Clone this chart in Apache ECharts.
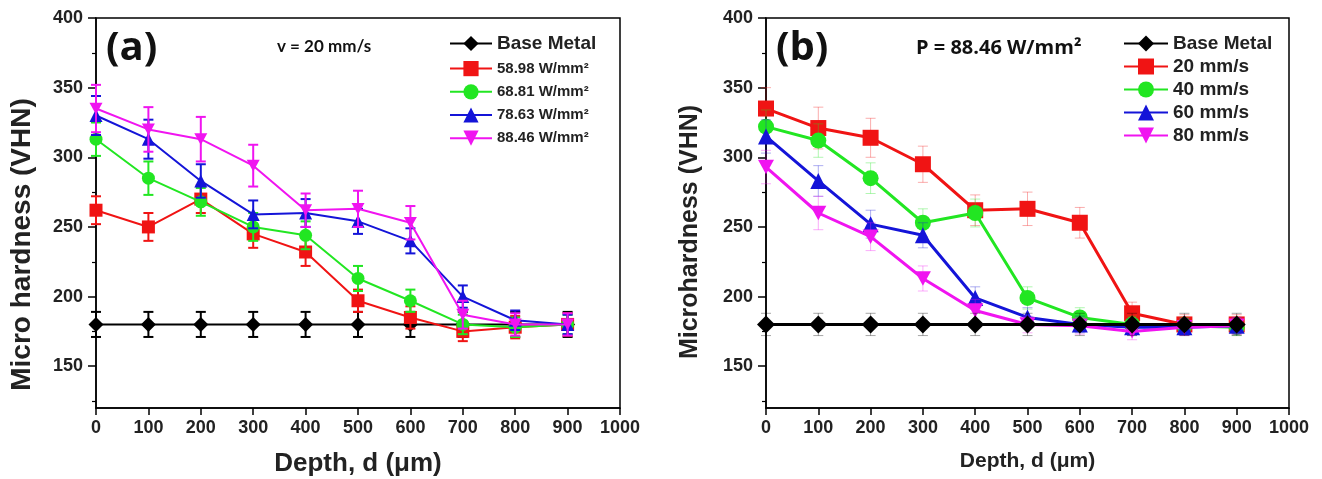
<!DOCTYPE html>
<html><head><meta charset="utf-8">
<script src="https://cdn.jsdelivr.net/npm/echarts@6/dist/echarts.min.js"></script>
<style>html,body{margin:0;padding:0;background:#fff}#c{width:1322px;height:479px}</style>
</head><body><div id="c"></div>
<script>
const depth = [0,100,200,300,400,500,600,700,800,900];
const xTicks = [0,100,200,300,400,500,600,700,800,900,1000];
const yTicks = [150,200,250,300,350,400];
const yMinor = [125,175,225,275,325,375];

// Panel (a): v = 20 mm/s
const namesA = ['Base Metal','58.98 W/mm²','68.81 W/mm²','78.63 W/mm²','88.46 W/mm²'];
const baseA  = [180,180,180,180,180,180,180,180,180,180];
const a5898  = [262,250,270,245,232,197,185,175,178,180];
const a6881  = [313,285,268,250,244,213,197,180,178,180];
const a7863  = [330,313,283,259,260,254,240,200,183,180];
const a8846  = [335,320,313,294,262,263,253,187,180,180];
const eBaseA = [9,9,9,9,9,9,9,9,9,9];
const e5898  = [10,10,10,10,10,8,8,7,8,8];
const e6881  = [12,12,10,10,10,9,8,7,7,7];
const e7863  = [14,14,12,10,10,9,9,8,7,7];
const e8846  = [17,16,16,15,12,13,12,10,8,8];

// Panel (b): P = 88.46 W/mm2
const namesB = ['Base Metal','20 mm/s','40 mm/s','60 mm/s','80 mm/s'];
const baseB  = [180,180,180,180,180,180,180,180,180,180];
const b20    = [335,321,314,295,262,263,253,188,180,180];
const b40    = [322,312,285,253,260,199,185,180,179,178];
const b60    = [315,283,252,244,199,185,180,178,178,179];
const b80    = [293,260,243,213,190,180,179,175,178,179];
const eBaseB = [8,8,8,8,8,8,8,8,8,8];
const e20    = [15,15,14,13,11,12,11,8,7,7];
const e40    = [12,12,11,10,10,8,7,6,6,6];
const e60    = [12,11,10,9,8,7,6,6,6,6];
const e80    = [12,12,10,9,8,6,6,6,6,6];

const colors = ['#000000','#f01414','#22e622','#1414d8','#f014f0'];
const syms = ['diamond','rect','circle','triangle','path://M0,0 L10,0 L5,9 Z'];

const chart = echarts.init(document.getElementById('c'));
const FONT = '"Liberation Sans", Arial, sans-serif';

function xAx(g, nameSize, shift){
  return {type:'value', gridIndex:g, min:0, max:1000, interval:100,
    name:'Depth, d (\u03bcm)', nameLocation:'middle', nameGap:43,
    nameTextStyle:{fontFamily:FONT, fontWeight:'bold', fontSize:nameSize, color:'#222', padding:[0,0,0,shift]},
    axisLine:{lineStyle:{color:'#000', width:1.5}},
    axisTick:{length:7, lineStyle:{color:'#000', width:1.5}},
    axisLabel:{fontFamily:FONT, fontWeight:'bold', fontSize:18, color:'#222', margin:11,
      formatter:function(v){return String(v);}},
    splitLine:{show:false}};
}
function yAx(g, name, nameSize, gap, shift){
  return {type:'value', gridIndex:g, min:120, max:400,
    name:name, nameLocation:'middle', nameGap:gap,
    nameTextStyle:{fontFamily:FONT, fontWeight:'bold', fontSize:nameSize, color:'#222', padding:[0,shift,0,0]},
    axisLine:{lineStyle:{color:'#000', width:1.5}},
    axisTick:{length:8, customValues:yTicks, lineStyle:{color:'#000', width:1.5}},
    axisLabel:{customValues:yTicks, fontFamily:FONT, fontWeight:'bold', fontSize:18, color:'#222', margin:13},
    splitLine:{show:false}};
}
function yMinorAx(g){
  return {type:'value', gridIndex:g, min:120, max:400, position:'left',
    axisLine:{show:false},
    axisTick:{length:4, customValues:yMinor, lineStyle:{color:'#000', width:1.2}},
    axisLabel:{show:false}, splitLine:{show:false}};
}

function lineSeries(name, vals, i, xi, yi, size, lw, z){
  return {type:'line', name:name, xAxisIndex:xi, yAxisIndex:yi,
    data: depth.map((d,k)=>[d, vals[k]]),
    symbol: syms[i], symbolSize: i===4 ? [size, size*0.9] : (i===0 ? size+2 : size),
    itemStyle:{color:colors[i]}, lineStyle:{color:colors[i], width:lw},
    z:z, animation:false};
}
function errSeries(vals, errs, i, xi, yi, opacity, lw, z){
  return {type:'custom', xAxisIndex:xi, yAxisIndex:yi,
    data: depth.map((d,k)=>[d, vals[k], errs[k]]),
    encode:{x:0, y:1}, z:z, animation:false, silent:true,
    renderItem:function(params, api){
      const x = api.value(0), y = api.value(1), e = api.value(2);
      const t = api.coord([x, y+e]), b = api.coord([x, y-e]);
      const w = 5;
      const st = {stroke:colors[i], lineWidth:lw, opacity:opacity};
      return {type:'group', children:[
        {type:'line', shape:{x1:t[0], y1:t[1], x2:b[0], y2:b[1]}, style:st},
        {type:'line', shape:{x1:t[0]-w, y1:t[1], x2:t[0]+w, y2:t[1]}, style:st},
        {type:'line', shape:{x1:b[0]-w, y1:b[1], x2:b[0]+w, y2:b[1]}, style:st}
      ]};
    }};
}

const valsA = [baseA,a5898,a6881,a7863,a8846];
const errsA = [eBaseA,e5898,e6881,e7863,e8846];
const valsB = [baseB,b20,b40,b60,b80];
const errsB = [eBaseB,e20,e40,e60,e80];

const series = [];
for (let i=0;i<5;i++){
  series.push(errSeries(valsA[i], errsA[i], i, 0, 0, 1, 2, 3+i));
  series.push(lineSeries(namesA[i], valsA[i], i, 0, 0, 13, 2, 3+i));
}
const orderB = [1,2,3,4,0];
orderB.forEach((i,k)=>{
  series.push(errSeries(valsB[i], errsB[i], i, 1, 2, 0.35, 1, 3+k));
  series.push(lineSeries(namesB[i]+(i===0?' ':''), valsB[i], i, 1, 2, 16, 3, 3+k));
});

chart.setOption({
  animation:false,
  grid:[
    {left:96, top:18, width:524, height:390, show:true, borderColor:'#000', borderWidth:1.5, outerBoundsMode:'none', containLabel:false},
    {left:766, top:18, width:523, height:390, show:true, borderColor:'#000', borderWidth:1.5, outerBoundsMode:'none', containLabel:false}
  ],
  xAxis:[xAx(0,26,0), xAx(1,21,0)],
  yAxis:[yAx(0,'Micro hardness (VHN)',28,60,63), yMinorAx(0), yAx(1,'Microhardness (VHN)',25,63,38), yMinorAx(1)],
  legend:[
    {left:444, top:29, orient:'vertical', itemWidth:42, itemHeight:19, itemGap:8,
     data:namesA, selectedMode:false,
     formatter:function(n){ return n==='Base Metal' ? '{b|'+n+'}' : '{n|'+n+'}'; },
     textStyle:{color:'#222', rich:{
       b:{fontFamily:FONT, fontWeight:'bold', fontSize:19, color:'#222'},
       n:{fontFamily:FONT, fontWeight:'bold', fontSize:15, color:'#222'}}}},
    {left:1118, top:29, orient:'vertical', itemWidth:44, itemHeight:20, itemGap:4,
     data:[namesB[0]+' ',namesB[1],namesB[2],namesB[3],namesB[4]], selectedMode:false,
     formatter:function(n){ return n.trim(); },
     textStyle:{fontFamily:FONT, fontWeight:'bold', fontSize:19, color:'#222'}}
  ],
  graphic:[
    {type:'text', left:106, top:29, style:{text:'(a)', font:'bold 40px "Open Sans", sans-serif', fill:'#111'}},
    {type:'text', left:277, top:38, style:{text:'v = 20 mm/s', font:'bold 17px Lato, "Open Sans", sans-serif', fill:'#111'}},
    {type:'text', left:776, top:29, style:{text:'(b)', font:'bold 40px "Open Sans", sans-serif', fill:'#111'}},
    {type:'text', left:916, top:38, style:{text:'P = 88.46 W/mm\u00b2', font:'bold 20px "Open Sans", sans-serif', fill:'#111'}}
  ],
  series:series
});
</script></body></html>
